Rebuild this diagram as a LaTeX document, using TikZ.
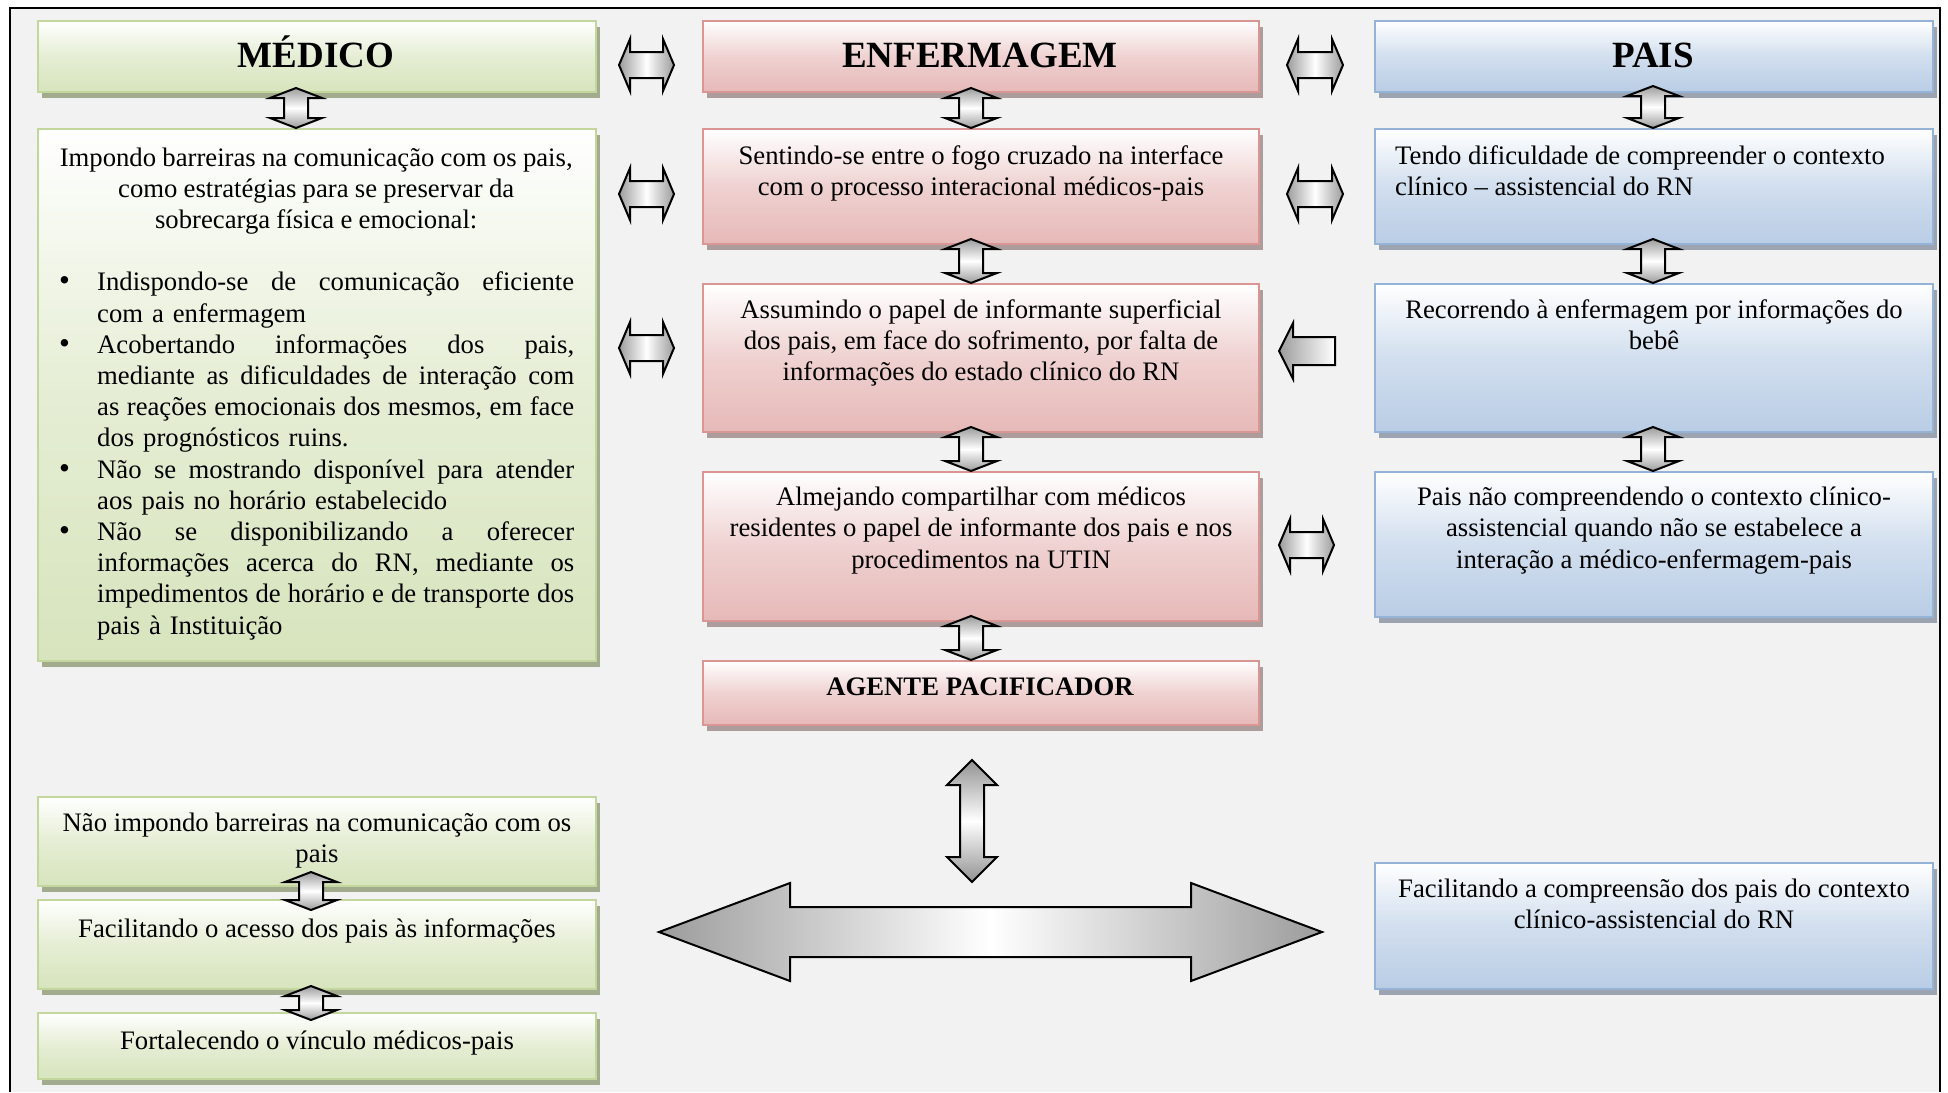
\documentclass[tikz,border=0pt]{standalone}
\usepackage{fontspec}
\setmainfont{Liberation Serif}
\usetikzlibrary{shadows}
\definecolor{bg}{HTML}{F2F2F2}
\definecolor{gbord}{HTML}{C3D69B}
\definecolor{gfill}{HTML}{D7E4BD}
\definecolor{pbord}{HTML}{D99694}
\definecolor{pfill}{HTML}{E6B9B8}
\definecolor{bbord}{HTML}{95B3D7}
\definecolor{bfill}{HTML}{B9CDE5}
\definecolor{gshad}{HTML}{A2AB8D}
\definecolor{pshad}{HTML}{AD9C9C}
\definecolor{bshad}{HTML}{9CA4B2}
\definecolor{arrg}{HTML}{9C9C9C}
\definecolor{arrd}{HTML}{929292}
\newcommand{\fsbody}{\fontsize{26.7pt}{31.2pt}\selectfont}
\newcommand{\fshead}{\fontsize{37pt}{41pt}\selectfont\bfseries}
\newcommand{\fssub}{\fontsize{26.7pt}{31.2pt}\selectfont\bfseries}
\newcommand{\jl}[1]{{\spaceskip=.25em plus 1fil minus .12em\relax\xspaceskip=\spaceskip\hbox to 477pt{#1}}}
\newcommand{\cl}[1]{\noindent\makebox[516pt]{\spaceskip=.235em\relax\xspaceskip=\spaceskip #1}\par}
\newcommand{\bitem}[1]{\noindent\makebox[39pt][l]{\hspace*{1pt}{\fontsize{31pt}{31.2pt}\selectfont\textbullet}}#1\par}
\newcommand{\citem}[1]{\noindent\hspace*{39pt}#1\par}
\tikzset{
  box/.style={rectangle, inner sep=0pt, line width=2pt, anchor=north west},
  gbox/.style={box, draw=gbord, top color=white, bottom color=gfill, middle color=gfill!65!white,
    general shadow={fill=gshad, shadow xshift=3.5pt, shadow yshift=-6pt}},
  pbox/.style={box, draw=pbord, top color=white, bottom color=pfill, middle color=pfill!65!white,
    general shadow={fill=pshad, shadow xshift=3.5pt, shadow yshift=-6pt}},
  bbox/.style={box, draw=bbord, top color=white, bottom color=bfill, middle color=bfill!65!white,
    general shadow={fill=bshad, shadow xshift=3.5pt, shadow yshift=-6pt}},
  txt/.style={font=\fsbody, inner sep=0pt, align=center, anchor=north, execute at begin node=\strut},
  head/.style={font=\fshead, inner sep=0pt, anchor=base},
  arr/.style={draw=black, line width=2pt, line join=miter},
  vshade/.style={top color=arrg, bottom color=arrg, middle color=white},
  hshade/.style={left color=arrg, right color=arrg, middle color=white},
}
% vertical double block arrow: x, top tip, bottom tip, head half width, shaft half width, head length
\newcommand{\vdarr}[7][]{%
  \path[arr, vshade, #1] (#2,#3) -- (#2+#5,#3+#7) -- (#2+#6,#3+#7) -- (#2+#6,#4-#7) -- (#2+#5,#4-#7)
   -- (#2,#4) -- (#2-#5,#4-#7) -- (#2-#6,#4-#7) -- (#2-#6,#3+#7) -- (#2-#5,#3+#7) -- cycle;}
% horizontal double block arrow: left tip, right tip, y, head half height, shaft half height, head length
\newcommand{\hdarr}[7][]{%
  \path[arr, hshade, #1] (#2,#4) -- (#2+#7,#4-#5) -- (#2+#7,#4-#6) -- (#3-#7,#4-#6) -- (#3-#7,#4-#5)
   -- (#3,#4) -- (#3-#7,#4+#5) -- (#3-#7,#4+#6) -- (#2+#7,#4+#6) -- (#2+#7,#4+#5) -- cycle;}
\begin{document}
\begin{tikzpicture}[x=1pt,y=-1pt]
\useasboundingbox (0,0) rectangle (1948,1092);
\fill[white] (0,0) rectangle (1948,1092);
\fill[bg] (10,8) rectangle (1940,1092);
\draw[line width=2.3pt] (10,1092) -- (10,8) -- (1940,8) -- (1940,1092);

% column headers
\node[gbox, minimum width=558pt, minimum height=71pt] (med) at (37,20) {};
\node[pbox, minimum width=556pt, minimum height=71pt] (enf) at (702,20) {};
\node[bbox, minimum width=558pt, minimum height=71pt] (pais) at (1374,20) {};
% left column
\node[gbox, minimum width=558pt, minimum height=532pt] (imp) at (37,128) {};
\node[gbox, minimum width=558pt, minimum height=89pt] (nimp) at (37,796) {};
\node[gbox, minimum width=558pt, minimum height=89pt] (face) at (37,899) {};
\node[gbox, minimum width=558pt, minimum height=66pt] (fort) at (37,1012) {};
% center column
\node[pbox, minimum width=556pt, minimum height=115pt] (sent) at (702,128) {};
\node[pbox, minimum width=556pt, minimum height=148pt] (assu) at (702,283) {};
\node[pbox, minimum width=556pt, minimum height=149pt] (alme) at (702,471) {};
\node[pbox, minimum width=556pt, minimum height=64pt] (agen) at (702,660) {};
% right column
\node[bbox, minimum width=558pt, minimum height=115pt] (tend) at (1374,128) {};
\node[bbox, minimum width=558pt, minimum height=148pt] (reco) at (1374,283) {};
\node[bbox, minimum width=558pt, minimum height=145pt] (pnao) at (1374,471) {};
\node[bbox, minimum width=558pt, minimum height=126pt] (faco) at (1374,862) {};

% texts
\node[head] (med-t) at (316,67) {MÉDICO};
\node[head] (enf-t) at (980,67) {ENFERMAGEM};
\node[head] (pais-t) at (1653,67) {PAIS};

\node[font=\fsbody, inner sep=0pt, text width=516pt, anchor=north west] (imp-t)
  at ([xshift=21pt,yshift=-16pt]imp.north west) {%
  \cl{\strut Impondo barreiras na comunicação com os pais,}
  \cl{como estratégias para se preservar da}
  \cl{sobrecarga física e emocional:}
  \mbox{}\par
  \bitem{\jl{Indispondo-se de comunicação eficiente}}
  \citem{com a enfermagem}
  \bitem{\jl{Acobertando informações dos pais,}}
  \citem{\jl{mediante as dificuldades de interação com}}
  \citem{\jl{as reações emocionais dos mesmos, em face}}
  \citem{dos prognósticos ruins.}
  \bitem{\jl{Não se mostrando disponível para atender}}
  \citem{aos pais no horário estabelecido}
  \bitem{\jl{Não se disponibilizando a oferecer}}
  \citem{\jl{informações acerca do RN, mediante os}}
  \citem{\jl{impedimentos de horário e de transporte dos}}
  \citem{pais à Instituição}};

\node[txt] (nimp-t) at ([yshift=-17pt]nimp.north) {Não impondo barreiras na comunicação com os\\pais};
\node[txt] (face-t) at ([yshift=-16pt]face.north) {Facilitando o acesso dos pais às informações};
\node[txt] (fort-t) at ([yshift=-15pt]fort.north) {Fortalecendo o vínculo médicos-pais};

\node[txt] (sent-t) at ([yshift=-17pt]sent.north) {Sentindo-se entre o fogo cruzado na interface\\com o processo interacional médicos-pais};
\node[txt] (assu-t) at ([yshift=-16pt]assu.north) {Assumindo o papel de informante superficial\\dos pais, em face do sofrimento, por falta de\\informações do estado clínico do RN};
\node[txt] (alme-t) at ([yshift=-16pt]alme.north) {Almejando compartilhar com médicos\\residentes o papel de informante dos pais e nos\\procedimentos na UTIN};
\node[font=\fssub, inner sep=0pt, anchor=base] (agen-t) at (980,695) {AGENTE PACIFICADOR};

\node[txt, align=left, anchor=north west] (tend-t) at ([xshift=21pt,yshift=-17pt]tend.north west) {Tendo dificuldade de compreender o contexto\\clínico – assistencial do RN};
\node[txt] (reco-t) at ([yshift=-16pt]reco.north) {Recorrendo à enfermagem por informações do\\bebê};
\node[txt] (pnao-t) at ([yshift=-16pt]pnao.north) {Pais não compreendendo o contexto clínico-\\assistencial quando não se estabelece a\\interação a médico-enfermagem-pais};
\node[txt] (faco-t) at ([yshift=-17pt]faco.north) {Facilitando a compreensão dos pais do contexto\\clínico-assistencial do RN};

% vertical links inside columns
\vdarr{296}{88}{128}{26}{12}{10}
\vdarr{971}{88}{128}{26}{12}{10}
\vdarr{971}{239}{283}{26}{12}{10}
\vdarr{971}{427}{471}{26}{12}{10}
\vdarr{971}{616}{660}{26}{12}{10}
\vdarr{1653}{86}{128}{26}{12}{10}
\vdarr{1653}{239}{283}{26}{12}{10}
\vdarr{1653}{427}{471}{26}{12}{10}
\vdarr{311}{872}{910}{26}{12}{10}
\vdarr{311}{986}{1020}{26}{12}{10}

% horizontal links between columns
\hdarr{619}{674}{65}{26}{13}{11}
\hdarr{619}{674}{194}{26}{13}{11}
\hdarr{619}{674}{348}{26}{13}{11}
\hdarr{1287}{1343}{65}{26}{13}{11}
\hdarr{1287}{1343}{194}{26}{13}{11}
\hdarr{1279}{1334}{545}{26}{13}{11}
\path[arr, left color=arrg, right color=white] (1279,351) -- (1293,323) -- (1293,337) -- (1335,337)
  -- (1335,365) -- (1293,365) -- (1293,379) -- cycle;

% big arrows
\vdarr[top color=arrd, bottom color=arrd, middle color=white]{972}{760}{882}{25}{12}{25}
\hdarr{659}{1322}{932}{49}{25}{131}
\end{tikzpicture}
\end{document}
